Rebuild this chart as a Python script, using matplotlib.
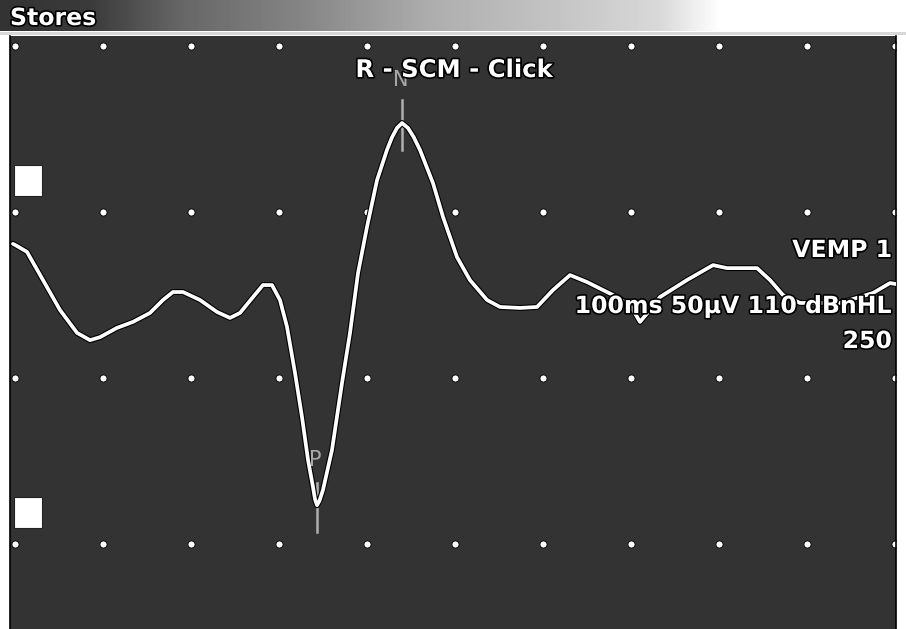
import matplotlib
matplotlib.use("Agg")
import matplotlib.pyplot as plt
import matplotlib.patheffects as pe
from matplotlib.patches import Rectangle
import numpy as np

W, H = 906, 629

# waveform: time (ms), amplitude (uV)
t_ms = [-0.23, 0.0, 1.36, 3.18, 5.11, 7.05, 8.52, 9.66, 11.59, 13.41, 15.34,
        16.82, 17.95, 19.09, 21.02, 22.95, 24.43, 25.57, 27.05, 28.18, 29.20,
        30.11, 30.91, 31.82, 32.61, 33.30, 33.86, 34.09, 34.32, 34.60, 35.00,
        36.02, 37.16, 38.07, 38.98, 40.00, 41.14, 42.27, 42.84, 43.41, 43.98,
        44.66, 45.30, 46.02, 47.50, 48.64, 50.23, 51.70, 53.64, 55.11, 57.39,
        59.32, 61.14, 63.07, 65.00, 67.95, 69.89, 71.02, 72.16, 73.30, 76.36,
        79.32, 80.91, 84.32, 85.80, 87.27, 89.20, 93.75, 97.50, 99.43, 100.1]
amp_uv = [-9.6, -9.9, -12.0, -20.5, -29.5, -36.4, -38.6, -37.7, -34.9, -33.1,
          -30.4, -26.5, -24.1, -24.1, -26.5, -30.1, -31.9, -30.4, -25.6, -22.0,
          -22.0, -26.5, -34.6, -48.5, -61.7, -74.7, -82.8, -86.5, -88.3, -87.0,
          -83.7, -71.7, -51.5, -36.4, -18.4, -4.5, 9.6, 18.7, 22.5, 25.3, 26.8,
          25.3, 22.6, 18.7, 8.7, -1.5, -13.6, -20.5, -26.5, -28.6, -28.9, -28.6,
          -23.5, -19.0, -21.1, -25.0, -28.0, -33.1, -29.5, -25.6, -20.5, -16.0,
          -16.9, -16.9, -20.5, -25.0, -27.4, -27.4, -24.4, -21.4, -21.7]

# peak markers (label, time, tick top, tick bottom)
peak_labels = ["N", "P"]
peak_t = [43.98, 34.32]
peak_tick = [(33.7, 18.7), (-81.6, -96.4)]

grid_t = list(range(0, 101, 10))
grid_v = [50, 0, -50, -100]

title = "R - SCM - Click"
info_lines = ["VEMP 1", "100ms 50µV 110 dBnHL", "250"]


def fx(x):
    return x / W


def fy(y):
    return 1 - y / H


outline = [pe.Stroke(linewidth=2.4, foreground="black"), pe.Normal()]

fig = plt.figure(figsize=(W / 100, H / 100), dpi=100, facecolor="white")

# top "Stores" bar with grey->white gradient
bar = fig.add_axes([0, fy(31), 1, 31 / H])
stops_x = [0, 90, 180, 300, 430, 560, 660, 720, 906]
stops_c = [0.20, 0.23, 0.40, 0.52, 0.68, 0.77, 0.85, 1.0, 1.0]
grad = np.interp(np.arange(W), stops_x, stops_c)
bar.imshow(np.tile(grad, (2, 1)), cmap="gray", vmin=0, vmax=1,
           aspect="auto", extent=[0, W, 0, 1])
bar.set_axis_off()
fig.text(fx(10), fy(25), "Stores", color="white", fontsize=17,
         fontweight="bold", family="DejaVu Sans", path_effects=outline)

# light separator under the bar
fig.patches.append(Rectangle((0, fy(35)), 1, 3 / H, transform=fig.transFigure,
                             facecolor="#d8d8d8", edgecolor="none"))

# main trace panel
left, right, top = 10, 896, 36
ax = fig.add_axes([fx(left), 0, (right - left) / W, (H - top) / H])
ax.set_facecolor("#333333")
ax.set_xlim((left - 15) / 8.8, (right - 15) / 8.8)
ax.set_ylim((212 - H) * 50 / 166, (212 - top) * 50 / 166)
ax.set_xticks([])
ax.set_yticks([])
for s in ["top", "bottom"]:
    ax.spines[s].set_visible(False)
for s in ["left", "right"]:
    ax.spines[s].set_color("black")
    ax.spines[s].set_linewidth(1.2)

gx, gy = np.meshgrid(grid_t, grid_v)
ax.scatter(gx.ravel(), gy.ravel(), s=26, color="white", edgecolors="black",
           linewidths=0.6, zorder=2)

for pt, (v0, v1) in zip(peak_t, peak_tick):
    ax.plot([pt, pt], [v0, v1], color="#b0b0b0", lw=1.8, zorder=3)

ax.plot(t_ms, amp_uv, color="white", lw=2.7, zorder=4,
        solid_joinstyle="round", solid_capstyle="round",
        path_effects=[pe.Stroke(linewidth=4.3, foreground="black",
                                joinstyle="round"), pe.Normal()])

ax.text(peak_t[0] - 0.2, (212 - 86) * 50 / 166, "N", color="#a8a8a8",
        fontsize=15, ha="center", va="baseline", zorder=5)
ax.text(peak_t[1] - 0.2, (212 - 466) * 50 / 166, "P", color="#a8a8a8",
        fontsize=15, ha="center", va="baseline", zorder=5)

# white markers on the left edge
for y0 in [165, 497]:
    fig.patches.append(Rectangle((fx(14), fy(y0 + 31)), 28 / W, 31 / H,
                                 transform=fig.transFigure, facecolor="white",
                                 edgecolor="#222222", lw=0.8, zorder=5))

fig.text(fx(454), fy(77), title, color="white", fontsize=17.5,
         fontweight="bold", ha="center", va="baseline", family="DejaVu Sans",
         path_effects=outline, zorder=6)
for txt, yb in zip(info_lines, [257, 313, 348]):
    fig.text(fx(892), fy(yb), txt, color="white", fontsize=17,
             fontweight="bold", ha="right", va="baseline",
             family="DejaVu Sans", path_effects=outline, zorder=6)

fig.savefig("out.png", dpi=100, facecolor="white")
